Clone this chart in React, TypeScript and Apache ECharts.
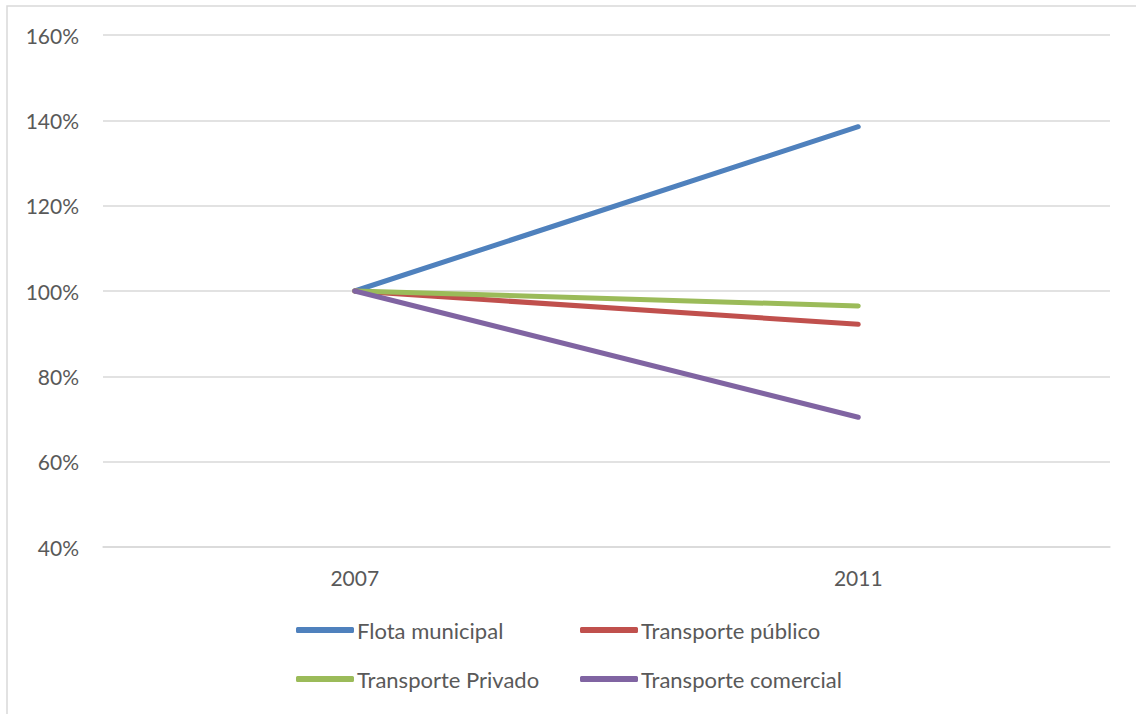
import React, { useEffect, useRef } from "react";
import * as echarts from "echarts";

const categories = ["2007", "2011"];
const flotaMunicipal = [1.0, 1.385];
const transportePublico = [1.0, 0.922];
const transportePrivado = [1.0, 0.965];
const transporteComercial = [1.0, 0.704];
const seriesNames = ["Flota municipal", "Transporte público", "Transporte Privado", "Transporte comercial"];
const colors = ["#4f81bd", "#c0504d", "#9bbb59", "#8064a2"];

export default function App() {
  const ref = useRef<HTMLDivElement>(null);
  useEffect(() => {
    const chart = echarts.init(ref.current!, undefined, { renderer: "svg" });
    const font = "Lato, 'Open Sans', sans-serif";
    const dataSets = [flotaMunicipal, transportePublico, transportePrivado, transporteComercial];
    const legendPos = [
      { left: 296, top: 619 },
      { left: 580, top: 619 },
      { left: 296, top: 668 },
      { left: 580, top: 668 },
    ];
    chart.setOption({
      animation: false,
      backgroundColor: "#ffffff",
      color: colors,
      graphic: [
        {
          type: "rect",
          shape: { x: 7, y: 6, width: 1140, height: 720 },
          style: { fill: "none", stroke: "#d9d9d9", lineWidth: 1.5 },
          silent: true,
        },
      ],
      grid: { left: 103, right: 26, top: 35, bottom: 167, containLabel: false },
      xAxis: {
        type: "category",
        data: categories,
        boundaryGap: true,
        axisLine: { show: true, lineStyle: { color: "#d9d9d9", width: 1.5 } },
        axisTick: { show: false },
        axisLabel: { color: "#595959", fontSize: 21, fontFamily: font, margin: 20 },
      },
      yAxis: {
        type: "value",
        min: 0.4,
        max: 1.6,
        interval: 0.2,
        axisLine: { show: false },
        axisTick: { show: false },
        splitLine: { lineStyle: { color: "#d9d9d9", width: 1.5 } },
        axisLabel: {
          color: "#595959",
          fontSize: 21,
          fontFamily: font,
          margin: 24,
          formatter: (v: number) => Math.round(v * 100) + "%",
        },
      },
      legend: seriesNames.map((name, i) => ({
        data: [{ name, icon: "roundRect" }],
        left: legendPos[i].left,
        top: legendPos[i].top,
        itemWidth: 58,
        itemHeight: 6,
        padding: 0,
        textStyle: { color: "#595959", fontSize: 22, fontFamily: font, padding: [0, 0, 0, -2] },
      })),
      series: seriesNames.map((name, i) => ({
        name,
        type: "line",
        data: dataSets[i],
        showSymbol: false,
        symbol: "none",
        lineStyle: { width: 5, color: colors[i], cap: "round" },
        itemStyle: { color: colors[i] },
      })),
    });
    return () => chart.dispose();
  }, []);
  return (
    <div
      ref={ref}
      style={{ position: "absolute", left: 0, top: 0, width: 1136, height: 714 }}
    />
  );
}
